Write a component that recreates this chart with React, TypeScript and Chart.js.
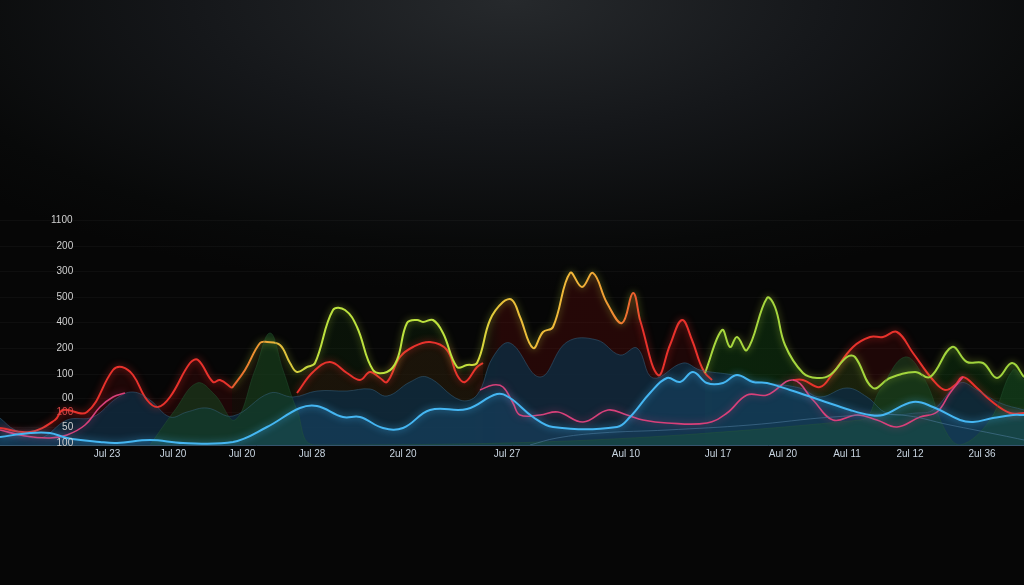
import React, { useEffect, useRef } from 'react';
import { Chart, registerables } from 'chart.js';

Chart.register(...registerables);

// ---- axis ticks ----
const xTickPos = [107, 173, 242, 312, 403, 507, 626, 718, 783, 847, 910, 982];
const xTickLabels = ['Jul 23', 'Jul 20', 'Jul 20', 'Jul 28', '2ul 20', 'Jul 27', 'Aul 10', 'Jul 17', 'Aul 20', 'Aul 11', '2ul 12', '2ul 36'];
const yTickPos = [900, 796, 696, 592, 492, 388, 284, 188, 132, 72, 8];
const yTickLabels = ['1100', '200', '300', '500', '400', '200', '100', '00', '100', '50', '100'];

// ---- series ----
const topX = [232, 245, 260, 267, 280, 290, 297, 307, 315, 333, 345, 357, 373, 387, 397, 407, 417, 423, 433, 443, 457, 467, 477, 490, 503, 512, 520, 533, 543, 553, 570, 582, 593, 607, 622, 633, 640, 670, 705, 722, 730, 737, 747, 767, 775, 785, 803, 817, 830, 847, 855, 873, 890, 915, 930, 952, 967, 983, 997, 1012, 1024];
const topY = [228, 300, 408, 412, 400, 328, 292, 312, 328, 540, 540, 472, 300, 292, 340, 488, 500, 492, 500, 448, 312, 320, 328, 500, 572, 580, 512, 388, 452, 472, 688, 632, 688, 568, 488, 608, 500, null, 288, 460, 392, 432, 380, 588, 552, 400, 288, 268, 280, 352, 352, 228, 268, 292, 272, 392, 332, 328, 268, 328, 272];

const redX = [0, 30, 55, 63, 87, 113, 122, 133, 147, 158, 170, 190, 198, 213, 220, 232, 265, 297, 313, 330, 347, 360, 370, 380, 387, 400, 413, 430, 447, 457, 465, 477, 483, 560, 640, 658, 670, 682, 692, 700, 705, 712, 750, 793, 803, 820, 833, 853, 870, 883, 897, 913, 933, 945, 955, 963, 977, 990, 1010, 1024];
const redY = [68, 52, 100, 140, 132, 300, 312, 280, 180, 152, 192, 328, 340, 252, 260, 228, null, 208, 292, 332, 288, 260, 292, 268, 252, 352, 392, 412, 380, 280, 252, 312, 328, null, 500, 280, 400, 500, 420, 328, 288, 260, null, 260, 260, 232, 288, 392, 432, 432, 452, 368, 260, 220, 240, 272, 228, 180, 128, 128];

const pinkX = [0, 25, 50, 67, 85, 100, 113, 125, 300, 480, 493, 503, 513, 520, 540, 558, 583, 608, 627, 643, 667, 707, 727, 747, 767, 793, 813, 833, 857, 877, 897, 920, 937, 950, 963];
const pinkY = [60, 36, 28, 40, 80, 152, 192, 208, null, 220, 240, 232, 168, 120, 120, 132, 92, 140, 120, 100, 88, 88, 128, 200, 200, 260, 180, 100, 120, 100, 72, 112, 132, 208, 272];

const blueX = [0, 30, 50, 67, 100, 117, 150, 183, 233, 267, 300, 317, 343, 360, 383, 403, 430, 467, 497, 510, 533, 553, 617, 630, 650, 667, 680, 693, 707, 723, 737, 753, 767, 790, 820, 850, 870, 883, 913, 933, 960, 973, 993, 1013, 1024];
const blueY = [32, 48, 48, 28, 12, 8, 20, 8, 12, 72, 148, 156, 112, 112, 68, 68, 140, 144, 204, 188, 112, 72, 72, 112, 208, 268, 252, 292, 248, 248, 280, 252, 248, 220, 180, 140, 120, 120, 172, 152, 100, 92, 108, 120, 120];

const areaX = [0, 15, 40, 67, 93, 117, 133, 150, 170, 187, 207, 233, 270, 293, 317, 347, 370, 387, 410, 427, 460, 477, 493, 510, 540, 567, 597, 620, 637, 653, 683, 700, 733, 760, 800, 820, 847, 867, 887, 917, 933, 960, 977, 1000, 1024];
const areaY = [108, 60, 28, 100, 112, 188, 212, 180, 112, 132, 148, 116, 208, 192, 216, 216, 224, 196, 252, 272, 180, 200, 352, 408, 272, 412, 420, 360, 388, 268, 328, 300, 280, 252, 228, 192, 228, 192, 128, 128, 140, 248, 220, 168, 140];

const hillX = [150, 175, 197, 215, 235, 255, 270, 283, 297, 315, 860, 880, 905, 925, 945, 960, 990, 1013, 1024];
const hillY = [0, 140, 248, 200, 100, 300, 448, 300, 140, 0, 100, 220, 352, 260, 60, 0, 100, 300, 260];

const faintX = [530, 557, 600, 667, 750, 833, 900, 950, 1000, 1024];
const faintY = [0, 28, 48, 60, 80, 112, 120, 80, 40, 20];

const pts = (xs: number[], ys: (number | null)[]) => xs.map((x, i) => ({ x, y: ys[i] }));

// ---- styles ----
const topStops: [number, string][] = [
  [0.22, '#e04a2e'], [0.245, '#ee8a30'], [0.27, '#e8b83a'], [0.30, '#c8d840'], [0.315, '#bce23e'],
  [0.45, '#bde23e'], [0.47, '#d8d83c'], [0.49, '#e8c03a'], [0.56, '#f2b83a'], [0.59, '#f0a034'],
  [0.615, '#ee6a30'], [0.63, '#e8402c'], [0.685, '#e04030'], [0.69, '#a8d83e'], [1, '#a0d43c'],
];
const topFillStops: [number, string][] = [
  [0.22, 'rgba(60,20,10,0.30)'], [0.30, 'rgba(18,48,14,0.30)'], [0.46, 'rgba(18,48,14,0.30)'],
  [0.49, 'rgba(85,12,10,0.40)'], [0.63, 'rgba(85,12,10,0.40)'], [0.69, 'rgba(20,75,20,0.42)'], [1, 'rgba(20,75,20,0.36)'],
];

function hGrad(c: any, stops: [number, string][], fallback: string) {
  const chart = c.chart;
  const area = chart.chartArea;
  if (!area) return fallback;
  const g = chart.ctx.createLinearGradient(area.left, 0, area.right, 0);
  stops.forEach(([p, col]) => g.addColorStop(p, col));
  return g;
}

const glowPlugin = {
  id: 'glow',
  beforeDatasetDraw(chart: any, args: any) {
    const ds = chart.data.datasets[args.index];
    chart.ctx.save();
    if (ds.glow) {
      chart.ctx.shadowColor = ds.glow;
      chart.ctx.shadowBlur = 7;
    }
  },
  afterDatasetDraw(chart: any) {
    chart.ctx.restore();
  },
};

const FIG = '\u2007';

export default function App() {
  const ref = useRef<HTMLCanvasElement | null>(null);

  useEffect(() => {
    document.body.style.margin = '0';
    document.body.style.background = '#050505';
    const canvas = ref.current;
    if (!canvas) return;
    const common = { pointRadius: 0, tension: 0.4, spanGaps: false };
    const chart = new Chart(canvas, {
      type: 'line',
      data: {
        datasets: [
          {
            ...common,
            order: 2,
            data: pts(topX, topY),
            borderColor: (c: any) => hGrad(c, topStops, '#b8e03e'),
            backgroundColor: (c: any) => hGrad(c, topFillStops, 'rgba(20,50,15,0.25)'),
            fill: 'origin',
            borderWidth: 2,
            glow: 'rgba(190,220,60,0.6)',
          } as any,
          {
            ...common,
            order: 3,
            data: pts(redX, redY),
            borderColor: '#e8322c',
            backgroundColor: 'rgba(95,10,10,0.28)',
            fill: 'origin',
            borderWidth: 2,
            glow: 'rgba(232,50,44,0.7)',
          } as any,
          {
            ...common,
            order: 1,
            data: pts(pinkX, pinkY),
            borderColor: '#d8407a',
            borderWidth: 1.6,
            fill: false,
            glow: 'rgba(216,64,122,0.6)',
          } as any,
          {
            ...common,
            order: 0,
            data: pts(blueX, blueY),
            borderColor: '#45b6f2',
            backgroundColor: 'rgba(32,100,150,0.28)',
            fill: 'origin',
            borderWidth: 2,
            glow: 'rgba(69,182,242,0.7)',
          } as any,
          {
            ...common,
            order: 1.5,
            data: pts(areaX, areaY),
            borderColor: 'rgba(55,100,130,0.5)',
            backgroundColor: 'rgba(14,42,62,0.85)',
            fill: 'origin',
            borderWidth: 1,
          } as any,
          {
            ...common,
            order: 1.2,
            data: pts(hillX, hillY),
            borderColor: 'rgba(40,90,55,0.4)',
            backgroundColor: 'rgba(22,66,32,0.6)',
            fill: 'origin',
            borderWidth: 1,
          } as any,
          {
            ...common,
            order: 0.5,
            data: pts(faintX, faintY),
            borderColor: 'rgba(80,125,160,0.55)',
            borderWidth: 1,
            fill: false,
          } as any,
        ],
      },
      options: {
        animation: false,
        responsive: false,
        devicePixelRatio: 1,
        layout: { padding: { top: 220, left: 0, right: 0, bottom: 0 } },
        plugins: {
          legend: { display: false },
          tooltip: { enabled: false },
          filler: { drawTime: 'beforeDatasetsDraw' },
        },
        scales: {
          x: {
            type: 'linear',
            min: 0,
            max: 1024,
            afterBuildTicks: (axis: any) => {
              axis.ticks = xTickPos.map((v) => ({ value: v }));
            },
            afterFit: (axis: any) => {
              axis.height = 140;
            },
            grid: { display: false, drawTicks: false },
            border: { display: true, color: 'rgba(75,120,155,0.7)', width: 1 },
            ticks: {
              autoSkip: false,
              maxRotation: 0,
              padding: 3,
              color: '#c8d4e0',
              font: { family: 'Liberation Sans, Arial, sans-serif', size: 10 },
              callback: (_v: any, i: number) => xTickLabels[i],
            },
          },
          y: {
            type: 'linear',
            min: 0,
            max: 900,
            afterBuildTicks: (axis: any) => {
              axis.ticks = yTickPos.map((v) => ({ value: v }));
            },
            afterFit: (axis: any) => {
              axis.width = 0;
            },
            grid: { color: 'rgba(255,255,255,0.035)', drawTicks: false },
            border: { display: false },
            ticks: {
              z: 1,
              autoSkip: false,
              mirror: true,
              padding: 51,
              color: (c: any) => (c.index === 8 ? '#d84848' : '#d0d0d0'),
              font: { family: 'Liberation Sans, Arial, sans-serif', size: 10 },
              callback: (_v: any, i: number) => yTickLabels[i].padStart(4, FIG),
            },
          },
        },
      } as any,
      plugins: [glowPlugin],
    });
    return () => chart.destroy();
  }, []);

  return (
    <div
      style={{
        position: 'absolute',
        left: 0,
        top: 0,
        width: 1024,
        height: 585,
        background:
          'radial-gradient(ellipse 70% 50% at 50% 0%, #26292c 0%, #15171a 45%, #080909 85%, #060606 100%)',
      }}
    >
      <canvas ref={ref} width={1024} height={585} style={{ display: 'block', width: 1024, height: 585 }} />
    </div>
  );
}
